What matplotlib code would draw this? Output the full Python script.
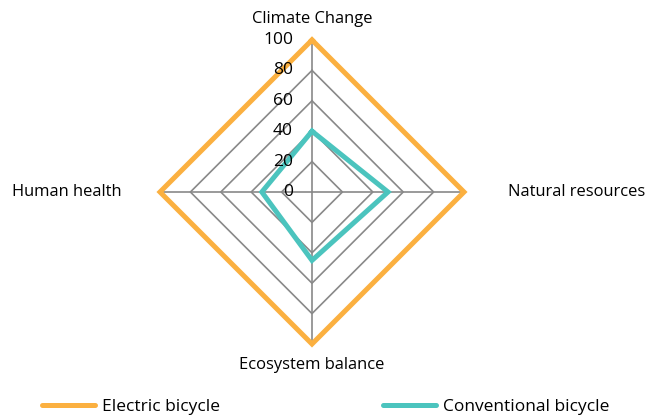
import numpy as np
import matplotlib
matplotlib.use("Agg")
import matplotlib.pyplot as plt
from matplotlib.transforms import offset_copy
from matplotlib.lines import Line2D

plt.rcParams['font.family'] = ['Open Sans', 'DejaVu Sans']

categories = ["Climate Change", "Natural resources", "Ecosystem balance", "Human health"]
electric = [100, 100, 100, 100]
conventional = [40, 50, 45, 33]
ticks = [0, 20, 40, 60, 80, 100]
series_names = ["Electric bicycle", "Conventional bicycle"]
colors = ["#FBB040", "#4BC4BE"]

W, H = 648, 418
fig = plt.figure(figsize=(W / 100, H / 100), dpi=100)
cx, cy, R = 312, 192, 152
ax = fig.add_axes([(cx - R) / W, (H - cy - R) / H, 2 * R / W, 2 * R / H], projection='polar')
ax.set_theta_offset(np.pi / 2)
ax.set_theta_direction(-1)
ax.set_ylim(0, 100)
ax.grid(False)
ax.spines['polar'].set_visible(False)
ax.set_xticks([])
ax.set_yticks([])
ax.patch.set_alpha(0)

n = len(categories)
angles = np.arange(n) * 2 * np.pi / n
closed = np.concatenate([angles, angles[:1]])

grid_color = "#898989"
for t in ticks[1:]:
    ax.plot(closed, [t] * (n + 1), color=grid_color, lw=1.2, zorder=1)
for a in angles:
    ax.plot([a, a], [0, 100], color=grid_color, lw=1.2, zorder=1)

for vals, c in zip([electric, conventional], colors):
    v = list(vals) + [vals[0]]
    ax.plot(closed, v, color=c, lw=3.6, solid_joinstyle='miter', zorder=3, clip_on=False)

tr = offset_copy(ax.transData, fig=fig, x=-19, y=0, units='dots')
for t in ticks:
    ax.text(0, t, str(t), transform=tr, ha='right', va='center', fontsize=12.5, color='black', zorder=4)

fs = 11.9
ax.text(angles[0], 113.5, categories[0], ha='center', va='center', fontsize=fs)
ax.text(angles[1], 129, categories[1], ha='left', va='center', fontsize=fs)
ax.text(angles[2], 113.5, categories[2], ha='center', va='center', fontsize=fs)
ax.text(angles[3], 125.5, categories[3], ha='right', va='center', fontsize=fs)

handles = [Line2D([], [], color=c, lw=3.6, solid_capstyle='round') for c in colors]
fig.legend(handles, series_names, loc='center left', bbox_to_anchor=(42 / W, 11 / H),
           ncol=2, frameon=False, fontsize=12.5, handlelength=3.05, handletextpad=0.4,
           columnspacing=9.4, borderaxespad=0.0, borderpad=0.0)

fig.savefig("out.png", dpi=100)
